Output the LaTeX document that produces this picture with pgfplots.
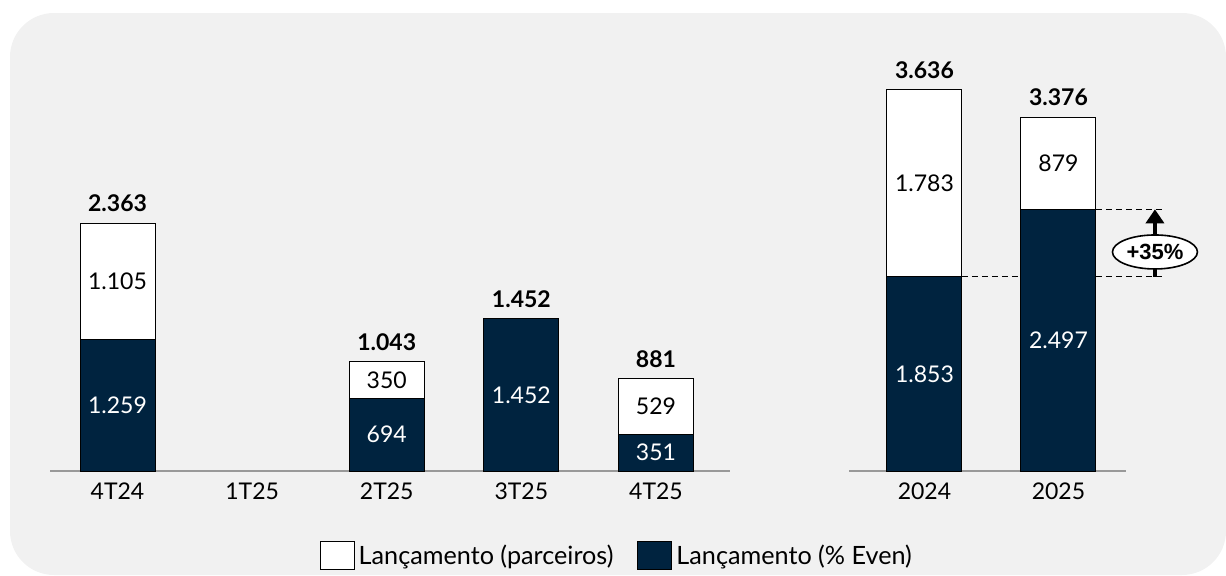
\documentclass[border=0pt]{standalone}
\usepackage{pgfplots}
\pgfplotsset{compat=1.18}
\usepackage{pgfplotstable}
\usetikzlibrary{arrows.meta,shapes.geometric}
\usepackage{fontspec}
\setmainfont{Lato}
\newfontfamily\arialfont{Liberation Sans}

\definecolor{navy}{HTML}{00233F}
\definecolor{panel}{HTML}{F1F1F1}
\definecolor{axisgray}{HTML}{999999}

% launches per quarter: dark = % Even, light = partners
\pgfplotstableread{
x dark light total
0 1259 1105 2363
2 694 350 1043
3 1452 0 1452
4 351 529 881
}\quarters
\pgfplotstableread{
x dark light total
0 1853 1783 3636
1 2497 879 3376
}\years

\pgfplotsset{
  evenbars/.style={
    scale only axis, height=193.88pt, ymin=0, ymax=3700,
    axis x line=bottom, axis y line=none,
    x axis line style={-, draw=axisgray, line width=1pt},
    ytick=\empty, major tick length=0pt, xtick style={draw=none},
    xticklabel style={font=\fontsize{11.5}{13}\selectfont, yshift=-2.5pt},
    clip=false,
    /pgf/number format/1000 sep={.},
    /pgf/number format/assume math mode=true,
  },
  segbar/.style={ybar, bar width=37.5pt, bar shift=0pt, draw=black, line width=0.5pt},
  seglabel/.style={forget plot, only marks, mark=none, nodes near coords,
    every node near coord/.append style={anchor=center, font=\fontsize{11.5}{13}\selectfont}},
  totlabel/.style={forget plot, only marks, mark=none, nodes near coords,
    every node near coord/.append style={anchor=south, inner sep=0pt, yshift=5.5pt,
      font=\bfseries\fontsize{11.5}{13}\selectfont}},
  boxlegend/.style={legend image code/.code={
    \draw[##1,/tikz/.cd,line width=0.5pt] (0pt,-7pt) rectangle (17pt,7pt);}},
}

\begin{document}
\begin{tikzpicture}
\path[use as bounding box] (0,0) rectangle (613pt,287.5pt);
\fill[panel, rounded corners=22pt] (5pt,0pt) rectangle (613pt,281pt);

\begin{axis}[evenbars,
  at={(25pt,52pt)}, anchor=south west, width=340pt,
  xmin=-0.5015, xmax=4.55,
  xtick={0,1,2,3,4}, xticklabels={4T24,1T25,2T25,3T25,4T25},
  legend columns=2,
  legend style={at={(0.835,-0.219)}, anchor=center, draw=none, fill=none,
    font=\fontsize{12.6}{14}\selectfont,
    /tikz/every even column/.append style={column sep=10pt}},
]
\addplot[segbar, fill=white, boxlegend] table[x=x, y expr=\thisrow{dark}+\thisrow{light}] {\quarters};
\addlegendentry{Lançamento (parceiros)}
\addplot[segbar, fill=navy, boxlegend] table[x=x, y=dark] {\quarters};
\addlegendentry{Lançamento (\% Even)}
\addplot[seglabel, point meta=\thisrow{dark}, every node near coord/.append style={text=white}]
  table[x=x, y expr=\thisrow{dark}/2] {\quarters};
\addplot[seglabel, point meta=\thisrow{light}, restrict expr to domain={\thisrow{light}}{1:100000}]
  table[x=x, y expr=\thisrow{dark}+\thisrow{light}/2] {\quarters};
\addplot[totlabel, point meta=\thisrow{total}]
  table[x=x, y expr=\thisrow{dark}+\thisrow{light}] {\quarters};
\end{axis}

\begin{axis}[evenbars,
  at={(424.5pt,52pt)}, anchor=south west, width=138.5pt,
  xmin=-0.563, xmax=1.504,
  xtick={0,1}, xticklabels={2024,2025},
]
\addplot[segbar, fill=white] table[x=x, y expr=\thisrow{dark}+\thisrow{light}] {\years};
\addplot[segbar, fill=navy] table[x=x, y=dark] {\years};
\addplot[seglabel, point meta=\thisrow{dark}, every node near coord/.append style={text=white}]
  table[x=x, y expr=\thisrow{dark}/2] {\years};
\addplot[seglabel, point meta=\thisrow{light}]
  table[x=x, y expr=\thisrow{dark}+\thisrow{light}/2] {\years};
\addplot[totlabel, point meta=\thisrow{total}]
  table[x=x, y expr=\thisrow{dark}+\thisrow{light}] {\years};
% growth of the % Even share
\draw[dash pattern=on 3pt off 2pt, line width=0.5pt] (axis cs:0.28,1853) -- (axis cs:0.72,1853);
\draw[dash pattern=on 3pt off 2pt, line width=0.5pt] (axis cs:1.28,1853) -- (axis cs:1.78,1853);
\draw[dash pattern=on 3pt off 2pt, line width=0.5pt] (axis cs:1.28,2497) -- (axis cs:1.78,2497);
\draw[line width=2pt, -{Triangle[width=9pt,length=7pt]}] (axis cs:1.72,1853) -- (axis cs:1.72,2497);
\node[ellipse, draw, fill=white, line width=0.8pt, minimum width=42.5pt, minimum height=17pt,
  inner sep=0pt, font=\arialfont\bfseries\fontsize{11}{12}\selectfont] at (axis cs:1.72,2090) {+35\%};
\end{axis}
\end{tikzpicture}
\end{document}
